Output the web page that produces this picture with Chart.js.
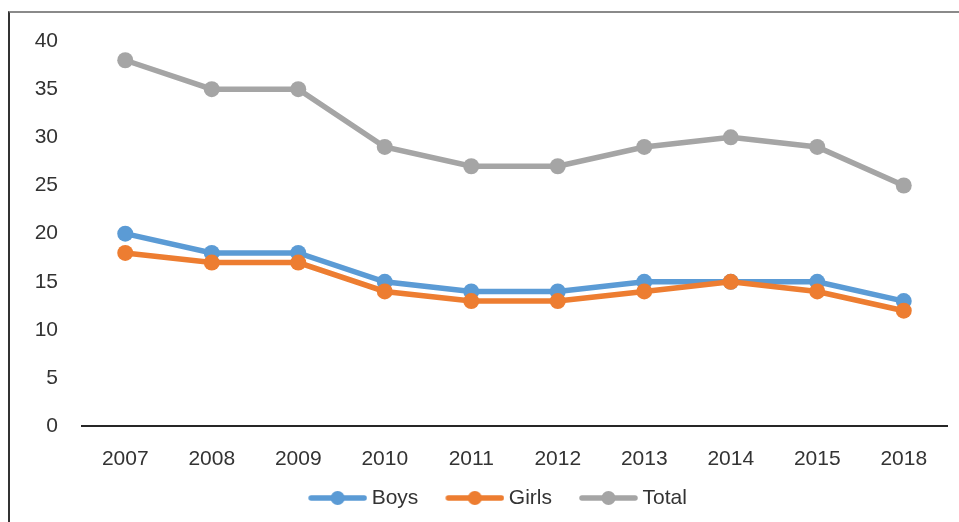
<!DOCTYPE html>
<html>
<head>
<meta charset="utf-8">
<script src="https://cdn.jsdelivr.net/npm/chart.js@4.4.1/dist/chart.umd.min.js"></script>
<style>
    html, body { margin: 0; padding: 0; background: #fff; overflow: hidden; }
    #frame {
        position: absolute; left: 8px; top: 11px;
        width: 949px; height: 509px;
        border-top: 2px solid #8a8a8a;
        border-left: 2px solid #333;
        overflow: hidden;
    }
    #chart { display: block; }
</style>
</head>
<body>
<div id="frame"><canvas id="chart" width="949" height="509"></canvas></div>
<script>
const years = ['2007', '2008', '2009', '2010', '2011', '2012', '2013', '2014', '2015', '2018'];
const boys  = [20, 18, 18, 15, 14, 14, 15, 15, 15, 13];
const girls = [18, 17, 17, 14, 13, 13, 14, 15, 14, 12];
const total = [38, 35, 35, 29, 27, 27, 29, 30, 29, 25];

const blue = '#5b9bd5';
const orange = '#ed7d31';
const gray = '#a5a5a5';
const textColor = '#333333';
const fontFamily = '"Liberation Sans", Arial, sans-serif';
const fontSize = 21;

// line-with-marker swatch for the legend; drawn right of the box centre
// so the label text sits close to it
function swatch(color) {
    const c = document.createElement('canvas');
    c.width = 82; c.height = 16;
    const ctx = c.getContext('2d');
    ctx.strokeStyle = color;
    ctx.lineWidth = 5.5;
    ctx.lineCap = 'round';
    ctx.beginPath();
    ctx.moveTo(26, 8); ctx.lineTo(79, 8);
    ctx.stroke();
    ctx.fillStyle = color;
    ctx.beginPath();
    ctx.arc(52.5, 8, 7, 0, Math.PI * 2);
    ctx.fill();
    return c;
}

function series(label, data, color, order) {
    return {
        label: label,
        data: data,
        borderColor: color,
        backgroundColor: color,
        pointBackgroundColor: color,
        pointBorderColor: color,
        borderWidth: 5.5,
        pointRadius: 8,
        pointBorderWidth: 0,
        tension: 0,
        order: order,
        swatch: swatch(color),
    };
}

new Chart(document.getElementById('chart').getContext('2d'), {
    type: 'line',
    data: {
        labels: years,
        datasets: [
            series('Boys', boys, blue, 3),
            series('Girls', girls, orange, 2),
            series('Total', total, gray, 1),
        ]
    },
    options: {
        responsive: false,
        animation: false,
        layout: { padding: { left: 21, right: 12, top: 28, bottom: 3.5 } },
        plugins: {
            tooltip: { enabled: false },
            legend: {
                position: 'bottom',
                labels: {
                    font: { family: fontFamily, size: fontSize },
                    color: textColor,
                    usePointStyle: true,
                    pointStyleWidth: 70,
                    padding: 10,
                    sort: (a, b) => a.datasetIndex - b.datasetIndex,
                    generateLabels: function (chart) {
                        const items = Chart.defaults.plugins.legend.labels.generateLabels(chart);
                        items.forEach(it => {
                            it.pointStyle = chart.data.datasets[it.datasetIndex].swatch;
                        });
                        return items;
                    }
                }
            }
        },
        scales: {
            x: {
                offset: true,
                grid: { display: false, drawTicks: false },
                border: { display: true, color: '#262626', width: 2 },
                ticks: { font: { family: fontFamily, size: fontSize }, color: textColor, padding: 20, maxRotation: 0 },
                afterFit: function (scale) { scale.height -= 14; }
            },
            y: {
                min: 0,
                max: 40,
                grid: { display: false, drawTicks: false },
                border: { display: false },
                ticks: { stepSize: 5, font: { family: fontFamily, size: fontSize }, color: textColor, padding: 24 },
                afterFit: function (scale) {
                    scale.width = 51;
                    scale.paddingTop = 0;
                    scale.paddingBottom = 0;
                }
            }
        }
    }
});
</script>
</body>
</html>
